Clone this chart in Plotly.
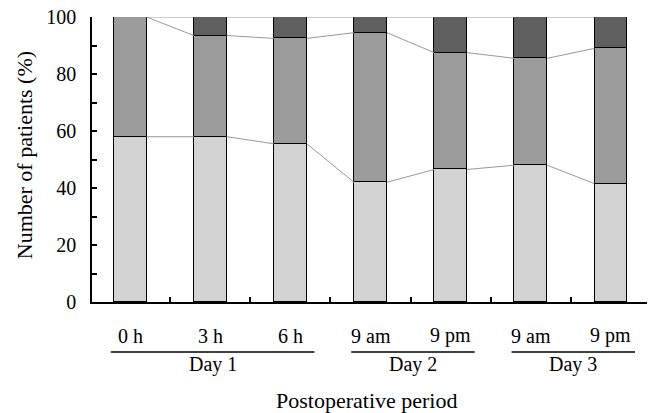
import plotly.graph_objects as go

# ---- data ----
time_labels = ["0 h", "3 h", "6 h", "9 am", "9 pm", "9 am", "9 pm"]
day_labels = ["Day 1", "Day 2", "Day 3"]
day_groups = [(0, 2), (3, 4), (5, 6)]
light = [58, 58, 55.5, 42, 46.5, 48, 41.5]
mid = [42, 35.5, 37, 52.5, 41, 37.5, 47.5]
dark = [0, 6.5, 7.5, 5.5, 12.5, 14.5, 11]
yticks = [0, 20, 40, 60, 80, 100]

# ---- style ----
FONT = "Liberation Serif, Times New Roman, DejaVu Serif, serif"
BAR_W = 0.41
colors = ["#d3d3d3", "#9b9b9b", "#5f5f5f"]

x = list(range(len(time_labels)))
fig = go.Figure()
for vals, c in zip([light, mid, dark], colors):
    fig.add_trace(go.Bar(x=x, y=vals, width=BAR_W, marker=dict(color=c, line=dict(color="black", width=1.5)),
                         showlegend=False, hoverinfo="skip"))

# connecting lines between boundaries
b1 = light
b2 = [a + b for a, b in zip(light, mid)]
b3 = [a + b + c for a, b, c in zip(light, mid, dark)]
for b in [b1, b2, b3]:
    lx, ly = [], []
    for i in range(len(x) - 1):
        lx += [x[i] + BAR_W / 2, x[i + 1] - BAR_W / 2, None]
        ly += [b[i], b[i + 1], None]
    fig.add_trace(go.Scatter(x=lx, y=ly, mode="lines", line=dict(color="#999999", width=1),
                             showlegend=False, hoverinfo="skip", cliponaxis=False))

annotations = []
for i, t in enumerate(time_labels):
    annotations.append(dict(x=i, y=-0.119, xref="x", yref="paper", text=t, showarrow=False,
                            xanchor="center", yanchor="middle", font=dict(family=FONT, size=20, color="black")))
shapes = []
for (s, e), d in zip(day_groups, day_labels):
    x0, x1 = s - 0.24, e + 0.3
    shapes.append(dict(type="line", xref="x", yref="paper", x0=x0, x1=x1, y0=-0.175, y1=-0.175,
                       line=dict(color="black", width=1.5)))
    annotations.append(dict(x=(x0 + x1) / 2, y=-0.221, xref="x", yref="paper", text=d, showarrow=False,
                            xanchor="center", yanchor="middle", font=dict(family=FONT, size=20, color="black")))
annotations.append(dict(x=0.495, y=-0.345, xref="paper", yref="paper", text="Postoperative period",
                        showarrow=False, xanchor="center", yanchor="middle",
                        font=dict(family=FONT, size=22, color="black")))
annotations.append(dict(x=-0.1225, y=0.515, xref="paper", yref="paper", text="Number of patients (%)",
                        showarrow=False, textangle=-90, xanchor="center", yanchor="middle",
                        font=dict(family=FONT, size=22, color="black")))

fig.update_layout(
    width=648, height=413, barmode="stack", bargap=0,
    margin=dict(l=92, r=1, t=17, b=111),
    plot_bgcolor="white", paper_bgcolor="white",
    font=dict(family=FONT, size=20, color="black"),
    annotations=annotations, shapes=shapes,
    xaxis=dict(range=[-0.475, 6.45], showline=True, linecolor="black", linewidth=1.5,
               tickvals=[i + 0.5 for i in x[:-1]], ticks="inside", ticklen=5, tickwidth=1.5,
               tickcolor="black", showticklabels=False, showgrid=False, zeroline=False),
    yaxis=dict(range=[0, 100], showline=True, linecolor="black", linewidth=1.5,
               tickvals=yticks, ticks="inside", ticklen=5, tickwidth=1.5, tickcolor="black",
               minor=dict(dtick=10, tick0=0, ticks="inside", ticklen=5, tickwidth=1.5, tickcolor="black", showgrid=False),
               ticklabelstandoff=10, showgrid=False, zeroline=False,
               tickfont=dict(family=FONT, size=20, color="black")),
)
fig.write_html("out.html", config={"displayModeBar": False},
               post_script="document.body.style.margin='0';document.body.style.overflow='hidden';")
